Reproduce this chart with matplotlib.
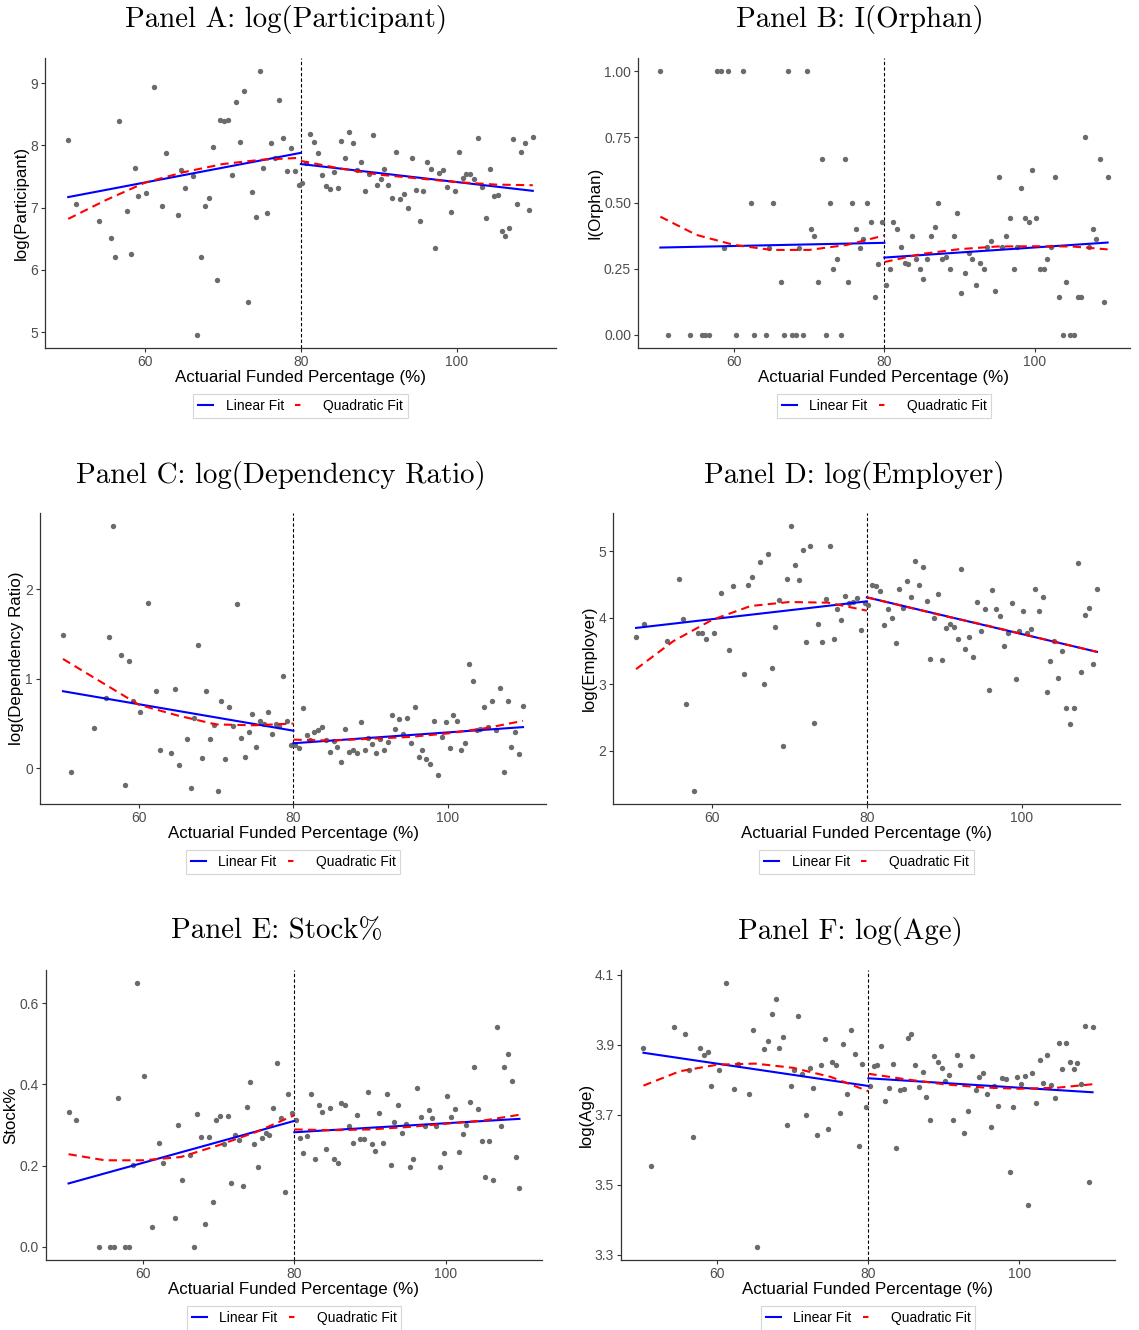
import matplotlib
matplotlib.use("Agg")
import matplotlib.pyplot as plt
from matplotlib.lines import Line2D

plt.rcParams['font.family'] = ['Liberation Sans', 'DejaVu Sans']

# ── Data ──────────────────────────────────────────────────────────
funded = [50.2, 51.2, 54.2, 55.7, 56.2, 56.7, 57.7, 58.2, 58.7, 59.2,
          60.2, 61.2, 62.2, 62.7, 64.2, 64.7, 65.2, 66.2, 66.7, 67.2,
          67.7, 68.2, 68.7, 69.2, 69.7, 70.2, 70.7, 71.2, 71.7, 72.2,
          72.7, 73.2, 73.7, 74.2, 74.7, 75.2, 75.7, 76.2, 76.7, 77.2,
          77.7, 78.2, 78.7, 79.2, 79.7,
          80.2, 80.7, 81.2, 81.7, 82.2, 82.7, 83.2, 83.7, 84.2, 84.7,
          85.2, 85.7, 86.2, 86.7, 87.2, 87.7, 88.2, 88.7, 89.2, 89.7,
          90.2, 90.7, 91.2, 91.7, 92.2, 92.7, 93.2, 93.7, 94.2, 94.7,
          95.2, 95.7, 96.2, 96.7, 97.2, 97.7, 98.2, 98.7, 99.2, 99.7,
          100.2, 100.7, 101.2, 101.7, 102.2, 102.7, 103.2, 103.7, 104.2, 104.7,
          105.2, 105.7, 106.2, 106.7, 107.2, 107.7, 108.2, 108.7, 109.2, 109.7]

participant = [8.08, 7.06, 6.78, 6.52, 6.21, 8.39, 6.94, 6.26, 7.63, 7.18,
               7.23, 8.93, 7.03, 7.88, 6.88, 7.60, 7.32, 7.51, 4.96, 6.21,
               7.02, 7.16, 7.97, 5.84, 8.40, 8.39, 8.40, 7.53, 8.69, 8.05,
               8.88, 5.48, 7.25, 6.85, 9.19, 7.64, 6.91, 8.03, 7.79, 8.72,
               8.11, 7.59, 7.96, 7.59, 7.37,
               7.39, 7.72, 8.18, 8.06, 7.88, 7.52, 7.34, 7.30, 7.57, 7.31,
               8.07, 7.79, 8.22, 8.04, 7.60, 7.74, 7.27, 7.54, 8.16, 7.37,
               7.46, 7.62, 7.37, 7.15, 7.89, 7.14, 7.22, 6.99, 7.80, 7.29,
               6.79, 7.26, 7.73, 7.62, 6.36, 7.56, 7.60, 7.33, 6.93, 7.26,
               7.89, 7.48, 7.54, 7.54, 7.46, 8.11, 7.33, 6.83, 7.62, 7.18,
               7.20, 6.63, 6.55, 6.67, 8.10, 7.06, 7.90, 8.04, 6.97, 8.14]

orphan = [1, 0, 0, 0, 0, 0, 1, 1, 0.33, 1,
          0, 1, 0.5, 0, 0, 0.33, 0.5, 0.2, 0, 1,
          0, 0, 0.33, 0, 1, 0.4, 0.375, 0.2, 0.667, 0,
          0.5, 0.25, 0.286, 0, 0.667, 0.2, 0.5, 0.4, 0.33, 0.364,
          0.5, 0.429, 0.142, 0.27, 0.429,
          0.19, 0.25, 0.429, 0.4, 0.333, 0.273, 0.267, 0.375, 0.286, 0.25,
          0.21, 0.286, 0.375, 0.41, 0.5, 0.286, 0.295, 0.25, 0.375, 0.462,
          0.159, 0.234, 0.312, 0.286, 0.188, 0.273, 0.25, 0.333, 0.357, 0.167,
          0.6, 0.333, 0.375, 0.444, 0.25, 0.333, 0.556, 0.444, 0.429, 0.625,
          0.444, 0.25, 0.25, 0.286, 0.333, 0.6, 0.142, 0, 0.2, 0,
          0, 0.142, 0.142, 0.75, 0.333, 0.4, 0.364, 0.667, 0.125, 0.6]

dependency = [1.49, -0.04, 0.45, 0.78, 1.47, 2.70, 1.26, -0.19, 1.20, 0.75,
              0.63, 1.84, 0.86, 0.20, 0.17, 0.89, 0.04, 0.33, -0.22, 0.56,
              1.38, 0.12, 0.86, 0.33, 0.48, -0.25, 0.75, 0.10, 0.68, 0.47,
              1.83, 0.34, 0.13, 0.40, 0.61, 0.24, 0.53, 0.49, 0.63, 0.38,
              0.50, 0.47, 1.03, 0.53, 0.26,
              0.26, 0.23, 0.67, 0.37, 0.32, 0.41, 0.43, 0.46, 0.32, 0.18,
              0.30, 0.24, 0.07, 0.44, 0.18, 0.20, 0.17, 0.52, 0.20, 0.34,
              0.27, 0.17, 0.33, 0.20, 0.29, 0.60, 0.44, 0.55, 0.38, 0.56,
              0.28, 0.68, 0.13, 0.20, 0.10, 0.05, 0.53, -0.07, 0.35, 0.52,
              0.23, 0.59, 0.53, 0.20, 0.28, 1.16, 0.97, 0.43, 0.44, 0.68,
              0.46, 0.75, 0.43, 0.90, -0.04, 0.75, 0.24, 0.40, 0.16, 0.70]

employer = [3.71, 3.91, 3.66, 4.58, 3.98, 2.71, 1.40, 3.78, 3.78, 3.69,
            3.78, 4.38, 3.52, 4.48, 3.16, 4.50, 4.62, 4.84, 3.00, 4.96,
            3.25, 3.87, 4.27, 2.07, 4.58, 5.38, 4.80, 4.57, 5.02, 3.64,
            5.08, 2.42, 3.91, 3.64, 4.29, 5.08, 3.68, 4.14, 3.97, 4.33,
            4.22, 4.24, 4.30, 3.82, 4.22,
            4.19, 4.49, 4.48, 4.40, 3.89, 4.13, 4.00, 3.62, 4.44, 4.15,
            4.56, 4.32, 4.86, 4.49, 4.76, 4.26, 3.39, 4.00, 4.36, 3.37,
            3.85, 3.91, 3.86, 3.68, 4.74, 3.54, 3.72, 3.42, 4.24, 3.80,
            4.14, 2.92, 4.42, 4.14, 4.03, 3.58, 3.78, 4.22, 3.08, 3.80,
            4.11, 3.78, 3.83, 4.44, 4.10, 4.32, 2.88, 3.35, 3.65, 3.09,
            3.51, 2.65, 2.41, 2.64, 4.82, 3.18, 4.05, 4.15, 3.30, 4.44]

stock = [0.332, 0.313, 0, 0, 0, 0.366, 0, 0, 0.202, 0.649,
         0.420, 0.049, 0.256, 0.206, 0.071, 0.301, 0.164, 0.226, 0, 0.327,
         0.270, 0.057, 0.270, 0.111, 0.311, 0.321, 0.252, 0.321, 0.157, 0.275,
         0.262, 0.150, 0.343, 0.405, 0.252, 0.197, 0.269, 0.280, 0.276, 0.341,
         0.453, 0.316, 0.134, 0.375, 0.329,
         0.311, 0.269, 0.231, 0.273, 0.376, 0.217, 0.348, 0.333, 0.241, 0.342,
         0.216, 0.207, 0.353, 0.348, 0.298, 0.256, 0.325, 0.265, 0.266, 0.381,
         0.253, 0.236, 0.330, 0.255, 0.375, 0.202, 0.307, 0.348, 0.280, 0.302,
         0.196, 0.215, 0.392, 0.319, 0.298, 0.336, 0.317, 0.298, 0.197, 0.230,
         0.372, 0.319, 0.339, 0.234, 0.278, 0.301, 0.356, 0.442, 0.340, 0.260,
         0.173, 0.260, 0.164, 0.542, 0.298, 0.443, 0.474, 0.407, 0.221, 0.146]

age = [3.890, 3.554, 3.950, 3.930, 3.828, 3.636, 3.890, 3.870, 3.878, 3.783,
       3.828, 4.076, 3.773, 3.846, 3.759, 3.942, 3.322, 3.889, 3.910, 3.988,
       4.030, 3.890, 3.923, 3.670, 3.783, 3.828, 3.982, 3.816, 3.699, 3.833,
       3.776, 3.643, 3.843, 3.917, 3.660, 3.850, 3.843, 3.704, 3.902, 3.760,
       3.942, 3.873, 3.609, 3.844, 3.721,
       3.782, 3.839, 3.843, 3.895, 3.740, 3.776, 3.844, 3.605, 3.770, 3.773,
       3.918, 3.930, 3.842, 3.780, 3.822, 3.750, 3.685, 3.869, 3.852, 3.834,
       3.795, 3.814, 3.685, 3.870, 3.843, 3.647, 3.711, 3.869, 3.770, 3.807,
       3.820, 3.760, 3.664, 3.783, 3.724, 3.806, 3.803, 3.536, 3.721, 3.807,
       3.788, 3.811, 3.441, 3.820, 3.733, 3.856, 3.790, 3.872, 3.784, 3.748,
       3.905, 3.831, 3.905, 3.851, 3.831, 3.849, 3.789, 3.953, 3.506, 3.951]

# fitted lines: linear fit endpoints, quadratic fit read at 5-pt steps
lin_x_left = [50.2, 80]
lin_x_right = [80, 109.7]
quad_x_left = [50.2, 55, 60, 65, 70, 75, 80]
quad_x_right = [80, 85, 90, 95, 100, 105, 109.7]

participant_lin_l = [7.17, 7.88]
participant_lin_r = [7.70, 7.27]
participant_quad_l = [6.82, 7.12, 7.40, 7.57, 7.70, 7.77, 7.80]
participant_quad_r = [7.75, 7.63, 7.53, 7.47, 7.41, 7.37, 7.36]

orphan_lin_l = [0.331, 0.349]
orphan_lin_r = [0.293, 0.350]
orphan_quad_l = [0.448, 0.379, 0.341, 0.322, 0.322, 0.341, 0.377]
orphan_quad_r = [0.276, 0.307, 0.325, 0.335, 0.336, 0.335, 0.324]

dependency_lin_l = [0.86, 0.42]
dependency_lin_r = [0.28, 0.46]
dependency_quad_l = [1.22, 0.97, 0.71, 0.59, 0.49, 0.48, 0.50]
dependency_quad_r = [0.32, 0.31, 0.33, 0.35, 0.39, 0.45, 0.53]

employer_lin_l = [3.85, 4.25]
employer_lin_r = [4.31, 3.49]
employer_quad_l = [3.23, 3.65, 3.97, 4.18, 4.24, 4.23, 4.11]
employer_quad_r = [4.31, 4.17, 4.03, 3.90, 3.76, 3.62, 3.49]

stock_lin_l = [0.156, 0.310]
stock_lin_r = [0.282, 0.315]
stock_quad_l = [0.228, 0.213, 0.213, 0.221, 0.250, 0.283, 0.324]
stock_quad_r = [0.289, 0.287, 0.289, 0.295, 0.303, 0.311, 0.325]

age_lin_l = [3.877, 3.782]
age_lin_r = [3.804, 3.764]
age_quad_l = [3.783, 3.824, 3.843, 3.846, 3.834, 3.808, 3.767]
age_quad_r = [3.817, 3.801, 3.787, 3.778, 3.774, 3.777, 3.787]

titles = ["Panel A: log(Participant)", "Panel B: I(Orphan)",
          "Panel C: log(Dependency Ratio)", "Panel D: log(Employer)",
          "Panel E: Stock%", "Panel F: log(Age)"]
ylabels = ["log(Participant)", "I(Orphan)", "log(Dependency Ratio)",
           "log(Employer)", "Stock%", "log(Age)"]
yticks = [[5, 6, 7, 8, 9], [0, 0.25, 0.5, 0.75, 1.0], [0, 1, 2],
          [2, 3, 4, 5], [0.0, 0.2, 0.4, 0.6], [3.3, 3.5, 3.7, 3.9, 4.1]]
ytick_fmt = ["{:.0f}", "{:.2f}", "{:.0f}", "{:.0f}", "{:.1f}", "{:.1f}"]

series = [participant, orphan, dependency, employer, stock, age]
fits = [
    (participant_lin_l, participant_lin_r, participant_quad_l, participant_quad_r),
    (orphan_lin_l, orphan_lin_r, orphan_quad_l, orphan_quad_r),
    (dependency_lin_l, dependency_lin_r, dependency_quad_l, dependency_quad_r),
    (employer_lin_l, employer_lin_r, employer_quad_l, employer_quad_r),
    (stock_lin_l, stock_lin_r, stock_quad_l, stock_quad_r),
    (age_lin_l, age_lin_r, age_quad_l, age_quad_r),
]

# ── Layout (pixel boxes: left, top, right, bottom) ────────────────
W, H = 1139, 1330
boxes = [(45, 58, 556, 348), (638, 58, 1130, 348),
         (40, 513, 546, 804), (613, 513, 1120, 804),
         (46, 970, 542, 1260), (621, 970, 1115, 1260)]
title_pos = [(286, 20), (860, 20), (281, 476), (854, 476), (277, 931), (850, 931)]

fig = plt.figure(figsize=(W / 100, H / 100), dpi=100)

for i in range(6):
    l, t, r, b = boxes[i]
    ax = fig.add_axes([l / W, 1 - b / H, (r - l) / W, (b - t) / H])

    ax.scatter(funded, series[i], s=15, color='#6b6b6b', linewidths=0, zorder=2)

    lin_l, lin_r, q_l, q_r = fits[i]
    ax.plot(lin_x_left, lin_l, color='#0000ff', lw=1.5, zorder=3)
    ax.plot(lin_x_right, lin_r, color='#0000ff', lw=1.5, zorder=3)
    ax.plot(quad_x_left, q_l, color='#ff0000', lw=1.5, dashes=(4, 2.5), zorder=4)
    ax.plot(quad_x_right, q_r, color='#ff0000', lw=1.5, dashes=(4, 2.5), zorder=4)

    ax.axvline(80, color='black', lw=0.8, dashes=(3, 2), zorder=1)

    ax.set_xticks([60, 80, 100])
    ax.set_yticks(yticks[i])
    ax.set_yticklabels([ytick_fmt[i].format(v) for v in yticks[i]])
    ax.tick_params(length=3, width=0.8, color='#333333', labelsize=10,
                   labelcolor='#4d4d4d', pad=2)
    for side in ('top', 'right'):
        ax.spines[side].set_visible(False)
    for side in ('left', 'bottom'):
        ax.spines[side].set_color('#333333')
        ax.spines[side].set_linewidth(0.9)

    ax.set_xlabel("Actuarial Funded Percentage (%)", fontsize=12.2, labelpad=0.5)
    ax.set_ylabel(ylabels[i], fontsize=12.2, labelpad=1)

    # legend keys: solid blue, single red dash
    handles = [Line2D([], [], color='#0000ff', lw=1.5),
               Line2D([], [], color='#ff0000', lw=1.5, dashes=(2.6, 20))]
    leg = ax.legend(handles, ["Linear Fit", "Quadratic Fit"], ncol=2,
                    loc='center', bbox_to_anchor=(0.5, -0.2), fontsize=10,
                    frameon=True, fancybox=False, handlelength=1.1,
                    columnspacing=0.8, handletextpad=0.9, borderpad=0.35)
    leg.get_frame().set_edgecolor('#cccccc')
    leg.get_frame().set_linewidth(0.8)

    tx, ty = title_pos[i]
    fig.text(tx / W, 1 - ty / H, titles[i], ha='center', va='center',
             fontsize=20.8, family=['cmr10', 'DejaVu Serif'])

fig.savefig("out.png", dpi=100, facecolor='white')
